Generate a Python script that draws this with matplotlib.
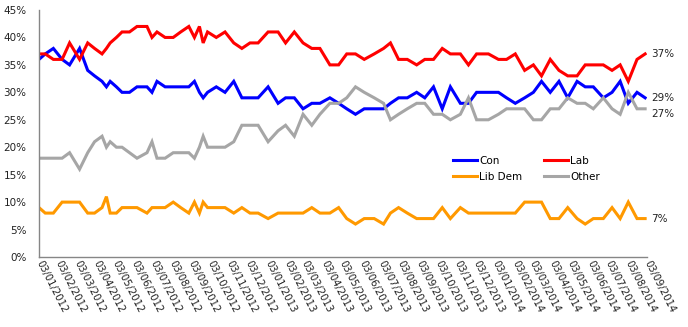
import pandas as pd
import matplotlib
matplotlib.use("Agg")
import matplotlib.pyplot as plt
import matplotlib.dates as mdates
from matplotlib.ticker import FuncFormatter

# poll dates and voting intention (%) per party
poll_dates = [
    "2012-01-03", "2012-01-13", "2012-01-26", "2012-02-09", "2012-02-21", "2012-03-08",
    "2012-03-21", "2012-04-01", "2012-04-13", "2012-04-20", "2012-04-26", "2012-05-06",
    "2012-05-15", "2012-05-27", "2012-06-08", "2012-06-24", "2012-07-02", "2012-07-10",
    "2012-07-23", "2012-08-05", "2012-08-17", "2012-08-30", "2012-09-08", "2012-09-16",
    "2012-09-22", "2012-09-29", "2012-10-13", "2012-10-27", "2012-11-10", "2012-11-23",
    "2012-12-06", "2012-12-19", "2013-01-04", "2013-01-20", "2013-02-01", "2013-02-15",
    "2013-03-01", "2013-03-15", "2013-03-28", "2013-04-13", "2013-04-27", "2013-05-10",
    "2013-05-24", "2013-06-07", "2013-06-23", "2013-07-08", "2013-07-19", "2013-08-01",
    "2013-08-15", "2013-08-30", "2013-09-12", "2013-09-26", "2013-10-10", "2013-10-23",
    "2013-11-08", "2013-11-21", "2013-12-04", "2013-12-23", "2014-01-08", "2014-01-21",
    "2014-02-04", "2014-02-19", "2014-03-05", "2014-03-18", "2014-04-01", "2014-04-15",
    "2014-04-29", "2014-05-14", "2014-05-27", "2014-06-09", "2014-06-25", "2014-07-09",
    "2014-07-22", "2014-08-04", "2014-08-18", "2014-08-31",
]

con = [36, 37, 38, 36, 35, 38, 34, 33, 32, 31,
       32, 31, 30, 30, 31, 31, 30, 32, 31, 31,
       31, 31, 32, 30, 29, 30, 31, 30, 32, 29,
       29, 29, 31, 28, 29, 29, 27, 28, 28, 29,
       28, 27, 26, 27, 27, 27, 28, 29, 29, 30,
       29, 31, 27, 31, 28, 28, 30, 30, 30, 29,
       28, 29, 30, 32, 30, 32, 29, 32, 31, 31,
       29, 30, 32, 28, 30, 29]

lab = [37, 37, 36, 36, 39, 36, 39, 38, 37, 38,
       39, 40, 41, 41, 42, 42, 40, 41, 40, 40,
       41, 42, 40, 42, 39, 41, 40, 41, 39, 38,
       39, 39, 41, 41, 39, 41, 39, 38, 38, 35,
       35, 37, 37, 36, 37, 38, 39, 36, 36, 35,
       36, 36, 38, 37, 37, 35, 37, 37, 36, 36,
       37, 34, 35, 33, 36, 34, 33, 33, 35, 35,
       35, 34, 35, 32, 36, 37]

lib_dem = [9, 8, 8, 10, 10, 10, 8, 8, 9, 11,
           8, 8, 9, 9, 9, 8, 9, 9, 9, 10,
           9, 8, 10, 8, 10, 9, 9, 9, 8, 9,
           8, 8, 7, 8, 8, 8, 8, 9, 8, 8,
           9, 7, 6, 7, 7, 6, 8, 9, 8, 7,
           7, 7, 9, 7, 9, 8, 8, 8, 8, 8,
           8, 10, 10, 10, 7, 7, 9, 7, 6, 7,
           7, 9, 7, 10, 7, 7]

other = [18, 18, 18, 18, 19, 16, 19, 21, 22, 20,
         21, 20, 20, 19, 18, 19, 21, 18, 18, 19,
         19, 19, 18, 20, 22, 20, 20, 20, 21, 24,
         24, 24, 21, 23, 24, 22, 26, 24, 26, 28,
         28, 29, 31, 30, 29, 28, 25, 26, 27, 28,
         28, 26, 26, 25, 26, 29, 25, 25, 26, 27,
         27, 27, 25, 25, 27, 27, 29, 28, 28, 27,
         29, 27, 26, 30, 27, 27]

dates = pd.to_datetime(poll_dates)
tick_dates = pd.date_range("2012-01-01", "2014-09-01", freq="MS") + pd.Timedelta(days=2)

series = [
    ("Con", con, "#0000ff", 0),
    ("Lab", lab, "#ff0000", 0),
    ("Lib Dem", lib_dem, "#ff9900", 0),
    ("Other", other, "#a6a6a6", -4),
]

FS = 7.5
fig = plt.figure(figsize=(6.88, 3.27), dpi=100)
ax = fig.add_axes([39 / 688, 70 / 327, 608 / 688, 247 / 327])

lines = {}
for name, vals, col, dy in series:
    lines[name], = ax.plot(dates, vals, color=col, lw=2.2, label=name, solid_joinstyle="miter")
    ax.annotate(f"{vals[-1]}%", (dates[-1], vals[-1]), xytext=(4.5, dy),
                textcoords="offset points", va="center", ha="left",
                fontsize=FS, color="#222222", annotation_clip=False)

ax.set_xlim(tick_dates[0], tick_dates[-1])
ax.set_ylim(0, 45)
ax.set_yticks(range(0, 46, 5))
ax.yaxis.set_major_formatter(FuncFormatter(lambda v, p: f"{v:.0f}%"))
ax.set_xticks(tick_dates)
ax.xaxis.set_major_formatter(mdates.DateFormatter("%d/%m/%Y"))

for s in ("top", "right"):
    ax.spines[s].set_visible(False)
for s in ("left", "bottom"):
    ax.spines[s].set_color("#868686")
    ax.spines[s].set_linewidth(1.0)

ax.tick_params(axis="y", length=0, pad=9, labelsize=FS, labelcolor="#222222")
ax.tick_params(axis="x", length=0, pad=3, labelsize=7.2, labelcolor="#222222")
for lbl in ax.get_xticklabels():
    lbl.set_rotation(-63)
    lbl.set_rotation_mode("anchor")
    lbl.set_ha("left")
    lbl.set_va("center")

# two columns filled column-first, so order gives rows Con/Lab and Lib Dem/Other
order = ["Con", "Lib Dem", "Lab", "Other"]
ax.legend([lines[n] for n in order], order, ncol=2, loc="upper left",
          bbox_to_anchor=(453 / 688, 1 - 156 / 327),
          bbox_transform=fig.transFigure, frameon=False, fontsize=FS,
          handlelength=2.3, handletextpad=0.2, columnspacing=2.1,
          borderpad=0, borderaxespad=0, labelspacing=0.55)

fig.savefig("out.png", dpi=100)
